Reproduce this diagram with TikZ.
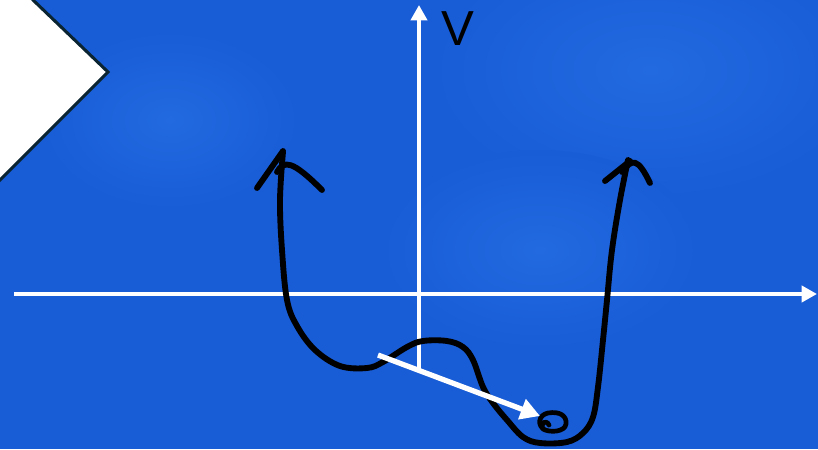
\documentclass[tikz,border=0pt]{standalone}
\usepackage{fontspec}
\setmainfont{Liberation Sans}
\usepackage{tikz}
\usetikzlibrary{arrows.meta,calc}
\usepackage{xcolor}
\definecolor{boardBlue}{RGB}{24,92,214}
\definecolor{boardLight}{RGB}{34,106,224}
\definecolor{edgeDark}{RGB}{10,36,50}

\begin{document}
\begin{tikzpicture}[x=0.03cm, y=-0.03cm,
    axis/.style={white, line width=3.6pt, -{Triangle[length=0.46cm, width=0.48cm]}},
    pen/.style={black, line width=5pt, line cap=round, line join=round},
    pointer/.style={white, line width=4.5pt, -{Triangle[length=0.58cm, width=0.62cm]}},
    glow/.style={inner color=boardLight, outer color=boardBlue}]
    \useasboundingbox (0,0) rectangle (818,449);
    % board
    \fill[boardBlue] (0,0) rectangle (818,449);
    \begin{scope}
        \clip (0,0) rectangle (818,449);
        \shade[glow] (650,70) ellipse (220 and 130);
        \shade[glow] (540,250) ellipse (160 and 100);
        \shade[glow] (170,120) ellipse (130 and 90);
        % chevron
        \filldraw[fill=white, draw=edgeDark, line width=2.6pt]
            (-5,-5) -- (33,-5) -- (33,0) -- (108,72) -- (0,180) -- (-5,185) -- cycle;
    \end{scope}
    % axes
    \coordinate (xl) at (817,294);
    \coordinate (xr) at (14,294);
    \coordinate (ybot) at (419,370);
    \coordinate (ytop) at (419,5);
    \draw[axis, {Triangle[length=0.46cm, width=0.48cm]}-] (xl) -- (xr);
    \draw[axis] (ybot) -- (ytop);
    \node[anchor=west, inner sep=0pt, font=\fontsize{42}{44}\selectfont] (vlab) at (441,29) {V};
    % potential curve
    \draw[pen] plot[smooth, tension=0.6] coordinates {
        (283,152) (280,200) (282,250) (287,300) (297,326) (315,350) (340,366)
        (367,368) (383,362) (407,347) (423,341) (447,341) (463,347) (473,360)
        (483,387) (493,403) (507,420) (523,437) (540,443) (567,442) (583,433)
        (593,417) (598,387) (603,340) (607,300) (612,250) (620,200) (628,160)};
    % hand-drawn arrow heads
    \draw[pen] (257,188) -- (283,151);
    \draw[pen] (277,172) .. controls (284,160) and (292,160) .. (322,190);
    \draw[pen] (605,181) -- (630,161);
    \draw[pen] (622,172) .. controls (632,158) and (638,158) .. (650,183);
    % ball in the well
    \draw[pen, line width=4pt] (545,430) .. controls (537,426) and (538,415) .. (548,413)
        .. controls (560,411) and (567,416) .. (566,424)
        .. controls (565,432) and (550,433) .. (543,429)
        .. controls (540,423) and (546,419) .. (549,425);
    % pointer
    \coordinate (ptail) at (378,355);
    \coordinate (phead) at (540,416);
    \draw[pointer] (ptail) -- (phead);
\end{tikzpicture}
\end{document}
